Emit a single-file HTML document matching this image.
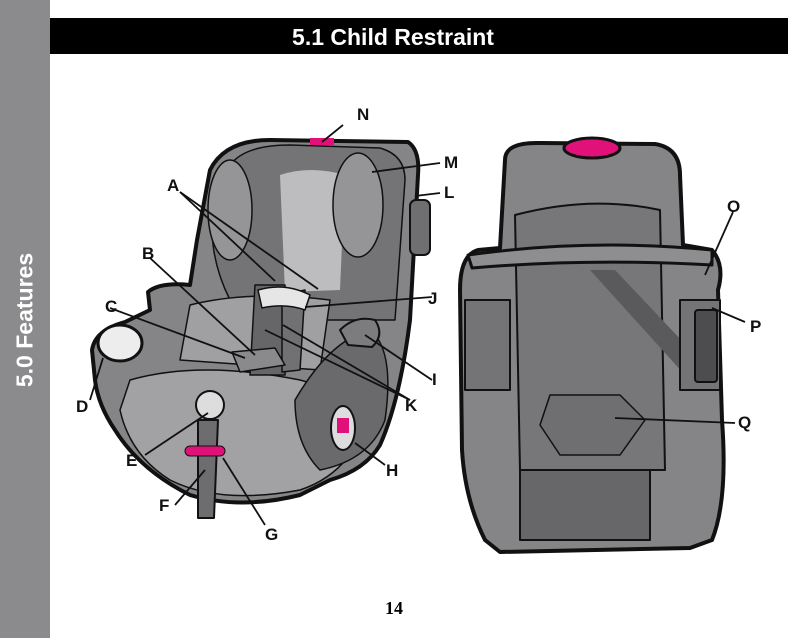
<!DOCTYPE html>
<html><head><style>
body{margin:0;width:788px;height:638px;background:#fff;position:relative;overflow:hidden;font-family:"Liberation Sans",sans-serif}
#side{position:absolute;left:0;top:0;width:50px;height:638px;background:#8b8b8d}
#side span{position:absolute;left:25px;top:320px;transform:translate(-50%,-50%) rotate(-90deg);color:#fff;font-weight:bold;font-size:23px;white-space:nowrap}
#bar{position:absolute;left:50px;top:18px;width:738px;height:36px;background:#000}
#bar span{position:absolute;left:343px;top:0;transform:translateX(-50%);color:#fff;font-weight:bold;font-size:23px;line-height:38px;white-space:nowrap}
#pg{position:absolute;left:0;width:788px;top:598px;text-align:center;font-family:"Liberation Serif",serif;font-weight:bold;font-size:18px}
svg{position:absolute;left:0;top:0}
svg text{font-family:"Liberation Sans",sans-serif;font-weight:bold;font-size:17px}
</style></head><body>
<div id="side"><span>5.0 Features</span></div>
<div id="bar"><span>5.1 Child Restraint</span></div>
<svg width="788" height="638" viewBox="0 0 788 638">
<g stroke="#111" stroke-width="4" stroke-linejoin="round">
<path d="M210 170 Q225 140 270 140 L408 142 Q420 150 418 175 L410 320 Q400 400 380 445 Q365 470 330 480 L300 495 Q240 510 190 495 Q140 470 115 430 Q98 405 95 380 L92 350 Q95 330 125 322 L150 310 L148 292 Q160 282 190 285 L197 240 Z" fill="#858587"/>
<path d="M230 165 Q245 145 290 145 L380 148 Q405 155 405 180 L395 320 L300 320 L230 300 Q205 250 215 200 Z" fill="#747476" stroke-width="1.5"/>
<path d="M280 175 Q310 165 345 175 L340 290 L285 292 Z" fill="#bdbdbf" stroke="none"/>
<ellipse cx="230" cy="210" rx="22" ry="50" fill="#959597" stroke-width="1.5"/>
<ellipse cx="358" cy="205" rx="25" ry="52" fill="#959597" stroke-width="1.5"/>
<path d="M190 305 Q250 290 330 300 L320 370 L180 360 Z" fill="#a0a0a2" stroke-width="1.5"/>
<path d="M130 380 Q200 360 300 380 L370 400 Q360 470 300 490 Q220 505 170 480 Q130 455 120 410 Z" fill="#a2a2a4" stroke-width="1.5"/>
<path d="M295 400 Q330 340 370 330 Q395 350 385 420 Q370 460 320 470 Q295 445 295 400Z" fill="#6a6a6c" stroke-width="1.5"/>
<path d="M340 330 Q355 315 375 320 Q385 335 372 347 L348 345 Z" fill="#7c7c7e" stroke-width="2"/>
<path d="M255 285 L285 285 L285 375 L250 375 Z" fill="#666668" stroke-width="1.5"/>
<path d="M282 295 L305 290 L300 370 L282 372 Z" fill="#717173" stroke-width="1.5"/>
<path d="M258 290 Q285 282 310 295 L305 310 Q285 303 262 308 Z" fill="#e6e6e6" stroke-width="1.5"/>
<path d="M232 352 L275 348 L285 365 L240 372 Z" fill="#8a8a8c" stroke-width="1.5"/>
<rect x="410" y="200" width="20" height="55" rx="6" fill="#6f6f71" stroke-width="2"/>
<ellipse cx="120" cy="343" rx="22" ry="18" fill="#ededed" stroke-width="3"/>
<circle cx="210" cy="405" r="14" fill="#ddd" stroke-width="2"/>
<path d="M198 420 L218 420 L214 518 L198 518 Z" fill="#6d6d6f" stroke-width="2"/>
<ellipse cx="343" cy="428" rx="12" ry="22" fill="#ddd" stroke-width="2"/>
<rect x="337" y="418" width="12" height="15" fill="#e0127a" stroke="none"/>
<rect x="185" y="446" width="40" height="10" rx="5" fill="#e0127a" stroke-width="1"/>
<rect x="310" y="138" width="24" height="7" fill="#e0127a" stroke="none"/>
<path d="M505 160 Q505 142 540 143 L655 144 Q680 148 680 175 L683 245 L712 250 Q725 265 718 290 L722 420 Q728 500 712 540 L690 548 L500 552 L485 540 Q465 500 462 450 L460 290 Q460 255 478 250 L500 248 Z" fill="#858587"/>
<path d="M515 215 Q590 195 660 210 L665 470 L520 470 Z" fill="#777779" stroke-width="2"/>
<path d="M468 255 Q590 238 712 250 L712 265 Q590 258 472 268 Z" fill="#8e8e90" stroke-width="3"/>
<path d="M550 395 L620 395 L645 420 L620 455 L560 455 L540 425 Z" fill="#6f6f71" stroke-width="1.5"/>
<path d="M590 270 L615 270 L700 360 L685 375 Z" fill="#5a5a5c" stroke="none"/>
<rect x="465" y="300" width="45" height="90" fill="#747476" stroke-width="2"/>
<rect x="680" y="300" width="40" height="90" fill="#747476" stroke-width="2"/>
<rect x="695" y="310" width="22" height="72" rx="3" fill="#4d4d4f" stroke-width="2"/>
<rect x="520" y="470" width="130" height="70" fill="#676769" stroke-width="2"/>
<ellipse cx="592" cy="148" rx="28" ry="10" fill="#e0127a" stroke-width="3"/>
</g>
<g stroke="#111" stroke-width="1.8" fill="none">
<line x1="343" y1="125" x2="322" y2="142"/>
<line x1="440" y1="163" x2="372" y2="172"/>
<line x1="440" y1="193" x2="415" y2="196"/>
<line x1="180" y1="192" x2="275" y2="281"/>
<line x1="180" y1="192" x2="318" y2="289"/>
<line x1="150" y1="258" x2="255" y2="355"/>
<line x1="110" y1="308" x2="245" y2="358"/>
<line x1="90" y1="400" x2="103" y2="358"/>
<line x1="145" y1="455" x2="208" y2="413"/>
<line x1="175" y1="505" x2="205" y2="470"/>
<line x1="265" y1="525" x2="223" y2="458"/>
<line x1="385" y1="465" x2="355" y2="443"/>
<line x1="432" y1="380" x2="365" y2="335"/>
<line x1="432" y1="297" x2="305" y2="307"/>
<line x1="410" y1="400" x2="283" y2="325"/>
<line x1="410" y1="400" x2="265" y2="330"/>
<line x1="733" y1="212" x2="705" y2="275"/>
<line x1="745" y1="322" x2="712" y2="308"/>
<line x1="735" y1="423" x2="615" y2="418"/>
</g>
<g fill="#111">
<text x="357" y="120">N</text><text x="444" y="168">M</text><text x="444" y="198">L</text>
<text x="167" y="191">A</text><text x="142" y="259">B</text><text x="105" y="312">C</text>
<text x="76" y="412">D</text><text x="126" y="466">E</text><text x="159" y="511">F</text>
<text x="265" y="540">G</text><text x="386" y="476">H</text><text x="432" y="385">I</text>
<text x="428" y="304">J</text><text x="405" y="411">K</text><text x="727" y="212">O</text>
<text x="750" y="332">P</text><text x="738" y="428">Q</text>
</g>
</svg>
<div id="pg">14</div>
</body></html>
